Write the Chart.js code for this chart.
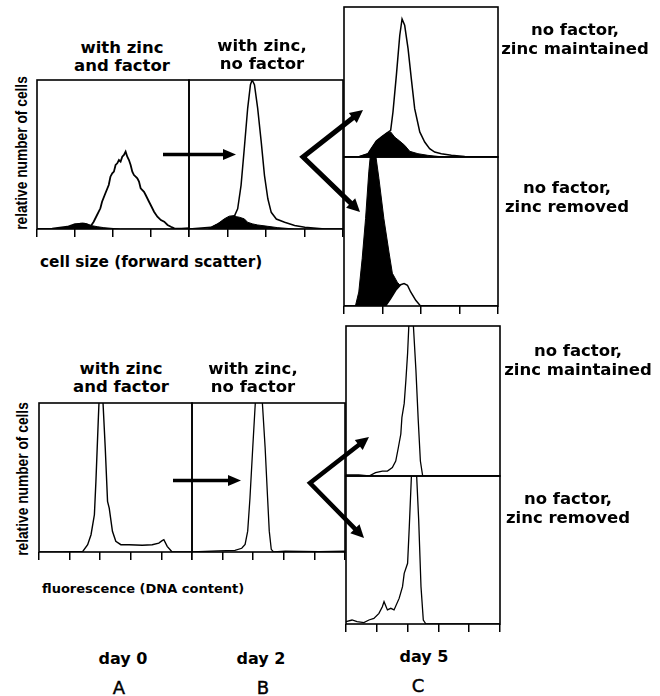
<!DOCTYPE html>
<html>
<head>
<meta charset="utf-8">
<script src="https://cdn.jsdelivr.net/npm/chart.js@4.4.1/dist/chart.umd.min.js"></script>
<style>
body { margin:0; background:#fff; }
#fig { position:relative; width:660px; height:696px; overflow:hidden; background:#fff; }
#fig canvas { position:absolute; }
#arrows { position:absolute; left:0; top:0; z-index:5; }
.t { position:absolute; width:200px; text-align:center; white-space:nowrap; color:#000;
     font-family:"DejaVu Sans"; font-weight:bold; font-size:16.5px; line-height:18px; }
.r { line-height:19px; }
.d { font-size:16px; }
.ax { position:absolute; white-space:nowrap; color:#000; font-family:"DejaVu Sans"; font-weight:bold; line-height:18px; }
.yl { position:absolute; width:200px; text-align:center; white-space:nowrap; transform:rotate(-90deg) scaleX(0.86);
      font-family:"Liberation Sans"; font-weight:bold; font-size:16px; line-height:18px; }
.lt { position:absolute; width:60px; text-align:center; font-family:"DejaVu Sans"; font-size:18px; line-height:18px; -webkit-text-stroke:0.4px #000; }
</style>
</head>
<body>
<div id="fig"></div>
<script>
// x and y are in percent of each panel (0-100); values above 100 run off the top
var topTickStep = 25;
var botTickStep = 20;

// day 0, cell size
var topA_open_x = [0, 10, 20, 25, 30, 33, 35.1, 37.3, 39.5, 41.7, 42.8, 45.0, 47.2, 48.3, 49.5, 50.6, 51.7, 52.8, 53.9, 55.0, 56.1, 57.2, 58.3, 59.4, 60.5, 61.6, 62.7, 63.8, 64.9, 66.0, 67.1, 68.2, 70.4, 71.5, 73.7, 74.8, 77.0, 79.2, 81.5, 83.7, 85.9, 88.1, 90.3, 95, 100];
var topA_open_y = [0, 0.2, 1.5, 3.2, 3.6, 3.0, 1.5, 4.9, 9.4, 13.9, 18.3, 24, 29.5, 35.1, 37.4, 38.5, 43, 44.1, 46.3, 45.2, 48.5, 49.7, 51.9, 48.5, 46.3, 43, 38.5, 36.2, 35.1, 34, 31.8, 27.3, 25, 22.8, 18.3, 16.1, 11.6, 8.3, 6, 4.9, 2.7, 1.5, 0.4, 0.2, 0.5];
var topA_fill_x = [0, 12, 18, 21.9, 25, 28.5, 31, 33, 36.2, 40, 44, 50.6, 55, 100];
var topA_fill_y = [0, 0.3, 1, 1.8, 2.8, 3.8, 3.9, 3.4, 2.2, 1.5, 0.9, 0.3, 0, 0];

// day 2, cell size
var topB_open_x = [0, 14.2, 22, 29.4, 31.6, 33.8, 35.9, 38.1, 39.9, 41, 42.5, 44.6, 46.9, 49, 51.2, 53.4, 56.7, 62.1, 68.6, 75.2, 88.2, 100];
var topB_open_y = [0, 1.1, 5, 8.5, 13.5, 29.3, 54, 81, 96.8, 100, 96.8, 81, 58.5, 36, 20.3, 11.2, 6.7, 4.5, 2.3, 1.1, 0, 0];
var topB_fill_x = [0, 12.4, 18.5, 22.9, 26.1, 29.4, 31, 32.7, 35.9, 38.1, 41.4, 44.6, 51.2, 57.7, 68.6, 100];
var topB_fill_y = [0, 0, 3.4, 6.8, 8.6, 9, 8.2, 7.9, 6.8, 4.5, 3.4, 2.7, 1.8, 0.9, 0, 0];

// day 5, cell size, zinc maintained
var topCu_open_x = [0, 9.1, 15.6, 17.7, 21, 24.2, 27.5, 30.3, 31.8, 34, 36.2, 37.7, 39.4, 41.6, 43.7, 45.9, 49.2, 52.4, 55.6, 58.9, 63.2, 69.7, 78.4, 100];
var topCu_open_y = [0, 0, 2.2, 5.6, 10.6, 13.3, 15.8, 17.8, 30, 54.4, 81, 92, 87.8, 72.2, 52.2, 32.2, 16.7, 10, 5.6, 3.3, 2.2, 1.1, 0.4, 0];
var topCu_fill_x = [0, 9.1, 15.6, 17.7, 21, 24.2, 27.5, 30.3, 32.9, 36.2, 39.4, 42.7, 48, 54.5, 61, 66, 100];
var topCu_fill_y = [0, 0, 2.2, 5.6, 10.6, 13.3, 15.8, 16.7, 13.3, 10.6, 7.8, 3.8, 2.2, 1.1, 0.4, 0, 0];

// day 5, cell size, zinc removed
var topCl_open_x = [0, 27, 30.3, 33.6, 36.8, 39, 41.2, 43.3, 46.6, 49.4, 60.8, 100];
var topCl_open_y = [0, 0, 4.9, 10.5, 14.3, 15, 13.9, 9.4, 3.8, 0.4, 0, 0];
var topCl_fill_x = [0, 7.4, 9.6, 11.8, 14, 16.1, 17.2, 20.5, 22.7, 25.9, 29.2, 31.4, 34.6, 38, 42, 46, 50, 100];
var topCl_fill_y = [0, 0, 9.4, 31.8, 58.6, 90, 102, 102, 85.4, 58.6, 36.2, 22, 16, 12, 7, 2, 0, 0];

// day 0, DNA content
var botA_x = [0, 15, 28.6, 31.8, 34, 36.2, 37.2, 38.8, 40.4, 43.3, 44.8, 45.9, 48, 50.2, 53.5, 58.9, 67.5, 74, 78.3, 80.5, 81.6, 83.8, 87, 100];
var botA_y = [0, 0, 0.4, 4.9, 11.6, 25, 47.4, 90, 130, 69.8, 34, 29.5, 13.9, 7.2, 4.9, 4.9, 4.5, 4.9, 6, 7.6, 8.3, 3.8, 0, 0];

// day 2, DNA content
var botB_x = [0, 17.1, 28.1, 32.5, 34.7, 36.4, 37.9, 39.7, 43.6, 47.8, 49.4, 50.5, 51.8, 53.3, 61, 83, 100];
var botB_y = [0, 0.7, 1.1, 2.5, 5.1, 14, 36.4, 70, 140, 70, 36.4, 14, 1.8, 0, 0.5, 0.2, 0.5];

// day 5, DNA content, zinc maintained
var botCu_x = [0, 8.3, 14.9, 19.2, 23.6, 26.9, 30.1, 32.3, 34, 35.6, 36.3, 37.8, 38.9, 40, 42.1, 45.4, 46.9, 48.3, 49.8, 60.7, 100];
var botCu_y = [0.8, 0.8, 0, 2.2, 3.3, 3.3, 5.6, 10, 19, 28, 39, 48.4, 64, 81.8, 130, 70.7, 37.3, 10, 0, 0, 0];

// day 5, DNA content, zinc removed
var botCl_x = [0, 3.9, 7.2, 11.6, 14.9, 18.1, 21.4, 23.6, 24.7, 26.9, 29.1, 31.2, 34.5, 36.7, 37.8, 40, 41.1, 44.1, 47.2, 48.7, 50.2, 51.9, 100];
var botCl_y = [1.6, 2.7, 1.6, 0.9, 2.7, 3.8, 7.2, 11.7, 15.1, 9.5, 10.6, 9.5, 17.3, 25.2, 34.2, 41, 65.8, 140, 70.3, 25.2, 2.7, 0, 0];

var fig = document.getElementById('fig');

function xy(xs, ys) {
	return xs.map(function(x, i) { return {x: x, y: ys[i]}; });
}

function open(xs, ys, w, white) {
	return { data: xy(xs, ys), borderColor: '#000', borderWidth: w, pointRadius: 0, tension: 0,
		fill: white ? 'origin' : false, backgroundColor: '#fff', order: white ? 0 : 1 };
}

function solid(xs, ys, onTop) {
	return { data: xy(xs, ys), borderColor: '#000', borderWidth: 1, pointRadius: 0, tension: 0,
		fill: 'origin', backgroundColor: '#000', order: onTop ? 0 : 1 };
}

var framePlugin = {
	id: 'frame',
	afterDraw: function(chart) {
		var a = chart.chartArea, ctx = chart.ctx;
		ctx.save();
		ctx.strokeStyle = '#000';
		ctx.lineWidth = 1.6;
		ctx.strokeRect(a.left, a.top, a.right - a.left, a.bottom - a.top);
		ctx.restore();
	}
};

function panel(box, step, sets) {
	var pad = 4, tick = step ? 8 : 0;
	var c = document.createElement('canvas');
	c.width = box.w + 2 * pad;
	c.height = box.h + 2 * pad + tick;
	c.style.left = (box.x - pad) + 'px';
	c.style.top = (box.y - pad) + 'px';
	fig.appendChild(c);
	new Chart(c, {
		type: 'line',
		data: { datasets: sets },
		options: {
			responsive: false,
			animation: false,
			events: [],
			layout: { padding: pad },
			plugins: { legend: { display: false }, tooltip: { enabled: false } },
			scales: {
				x: {
					type: 'linear', min: 0, max: 100, display: !!step,
					ticks: { display: false, stepSize: step || 25 },
					grid: { drawOnChartArea: false, drawTicks: true, tickLength: 8, color: '#000', lineWidth: 1.5 },
					border: { display: false }
				},
				y: { display: false, min: 0, max: 100 }
			}
		},
		plugins: [framePlugin]
	});
}

panel({x: 37, y: 80, w: 152, h: 149}, topTickStep, [open(topA_open_x, topA_open_y, 1.8), solid(topA_fill_x, topA_fill_y, true)]);
panel({x: 189, y: 80, w: 154, h: 149}, topTickStep, [open(topB_open_x, topB_open_y, 1.5), solid(topB_fill_x, topB_fill_y, true)]);
panel({x: 344, y: 7, w: 154, h: 150}, 0, [open(topCu_open_x, topCu_open_y, 1.5), solid(topCu_fill_x, topCu_fill_y, true)]);
panel({x: 344, y: 157, w: 154, h: 149}, topTickStep, [open(topCl_open_x, topCl_open_y, 1.5, true), solid(topCl_fill_x, topCl_fill_y, false)]);

panel({x: 39, y: 403, w: 153, h: 149}, botTickStep, [open(botA_x, botA_y, 1.4)]);
panel({x: 192, y: 403, w: 153, h: 149}, botTickStep, [open(botB_x, botB_y, 1.3)]);
panel({x: 346, y: 326, w: 154, h: 150}, 0, [open(botCu_x, botCu_y, 1.3)]);
panel({x: 346, y: 476, w: 154, h: 148}, botTickStep, [open(botCl_x, botCl_y, 1.3)]);

// text
function text(cls, html, cx, top) {
	var d = document.createElement('div');
	d.className = cls;
	d.innerHTML = html;
	d.style.left = (cx - 100) + 'px';
	d.style.top = top + 'px';
	fig.appendChild(d);
}
text('t', 'with zinc<br>and factor', 122, 39);
text('t', 'with zinc,<br>no factor', 262, 37);
text('t r', 'no factor,<br>zinc maintained', 575, 20);
text('t r', 'no factor,<br>zinc removed', 567, 178);
text('t', 'with zinc<br>and factor', 121, 360);
text('t', 'with zinc,<br>no factor', 253, 360);
text('t r', 'no factor,<br>zinc maintained', 578, 341);
text('t r', 'no factor,<br>zinc removed', 568, 489);
text('t d', 'day 0', 123, 650);
text('t d', 'day 2', 261, 650);
text('t d', 'day 5', 424, 648);
text('yl', 'relative number of cells', 22, 144);
text('yl', 'relative number of cells', 23, 470);

var ax1 = document.createElement('div');
ax1.className = 'ax'; ax1.style.cssText = 'left:40px; top:253px; font-size:15.3px;';
ax1.textContent = 'cell size (forward scatter)';
fig.appendChild(ax1);
var ax2 = document.createElement('div');
ax2.className = 'ax'; ax2.style.cssText = 'left:42px; top:580px; font-size:13px;';
ax2.textContent = 'fluorescence (DNA content)';
fig.appendChild(ax2);

[['A', 119, 679], ['B', 263, 679], ['C', 418, 677]].forEach(function(l) {
	var d = document.createElement('div');
	d.className = 'lt';
	d.textContent = l[0];
	d.style.left = (l[1] - 30) + 'px';
	d.style.top = l[2] + 'px';
	fig.appendChild(d);
});

// arrows
function head(tip, from, len, half) {
	var dx = tip[0] - from[0], dy = tip[1] - from[1], d = Math.sqrt(dx * dx + dy * dy);
	var ux = dx / d, uy = dy / d;
	var bx = tip[0] - len * ux, by = tip[1] - len * uy;
	return {
		base: [bx + ux * 2, by + uy * 2],
		poly: [tip, [bx - half * uy, by + half * ux], [bx + half * uy, by - half * ux]]
	};
}
function pts(a) { return a.map(function(p) { return p[0].toFixed(1) + ',' + p[1].toFixed(1); }).join(' '); }

var svg = '';
function straight(from, tip, w, len, half) {
	var h = head(tip, from, len, half);
	svg += '<polyline points="' + pts([from, h.base]) + '" fill="none" stroke="#000" stroke-width="' + w + '"/>';
	svg += '<polygon points="' + pts(h.poly) + '" fill="#000"/>';
}
function vee(tip1, vertex, tip2, w, len, half) {
	var h1 = head(tip1, vertex, len, half), h2 = head(tip2, vertex, len, half);
	svg += '<polyline points="' + pts([h1.base, vertex, h2.base]) + '" fill="none" stroke="#000" stroke-width="' + w + '" stroke-linejoin="miter" stroke-miterlimit="10"/>';
	svg += '<polygon points="' + pts(h1.poly) + '" fill="#000"/>';
	svg += '<polygon points="' + pts(h2.poly) + '" fill="#000"/>';
}
straight([163, 154.5], [236, 154.5], 3.5, 13, 5.5);
straight([173, 480.5], [241, 480.5], 3.5, 13, 5.5);
vee([363, 110], [303, 157], [360, 212], 5, 13, 6.5);
vee([369, 437], [310, 483], [364, 538], 4.5, 13, 6.5);

var s = document.createElementNS('http://www.w3.org/2000/svg', 'svg');
s.setAttribute('id', 'arrows');
s.setAttribute('width', '660');
s.setAttribute('height', '696');
s.innerHTML = svg;
fig.appendChild(s);
</script>
</body>
</html>
